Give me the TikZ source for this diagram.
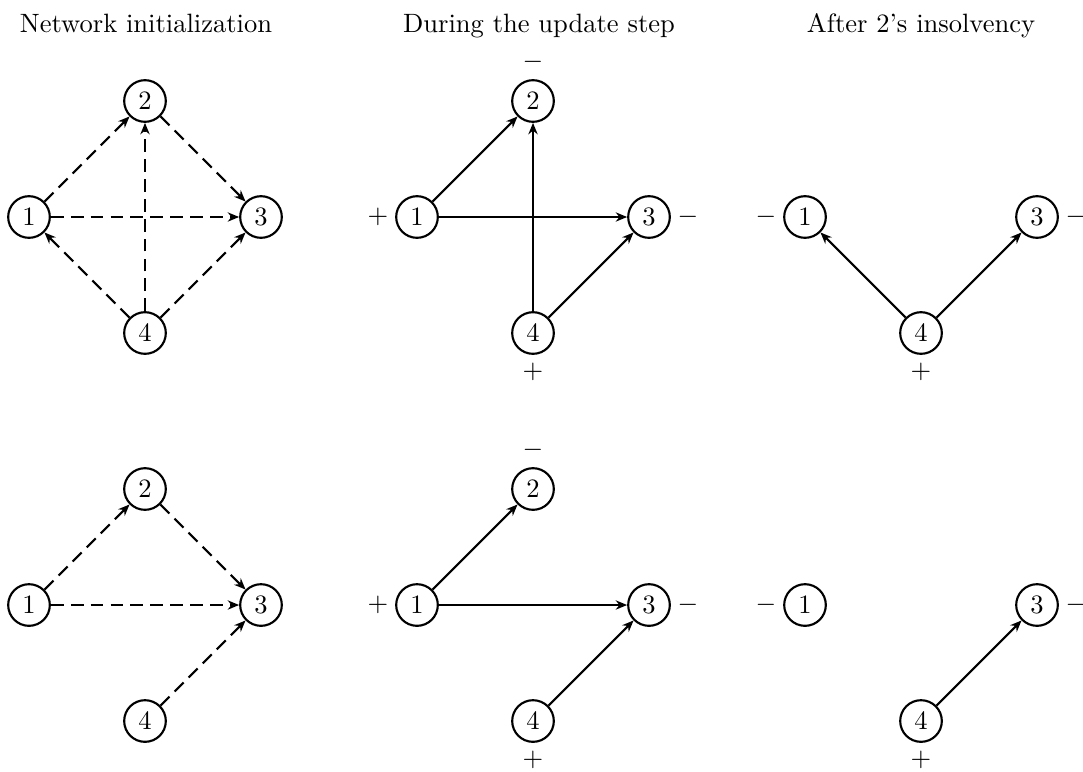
\documentclass[tikz,border=0pt]{standalone}
\usetikzlibrary{arrows.meta,calc}

\begin{document}
\begin{tikzpicture}[
  x=0.377pt, y=-0.377pt,
  vertex/.style={circle, draw, thick, minimum size=15.7pt, inner sep=0pt},
  edge/.style={thick, -{Stealth[length=4.3pt,width=3.5pt,inset=1.4pt]}},
  dashedge/.style={edge, dash pattern=on 4.8pt off 2.7pt},
  sign/.style={inner sep=0pt},
  title/.style={anchor=base, inner sep=0pt}
]
\useasboundingbox (0,0) rectangle (1083,771);

% column titles
\node[title] (t1) at (146,32) {Network initialization};
\node[title] (t2) at (539,32) {During the update step};
\node[title] (t3) at (921,32) {After 2's insolvency};

% ---------- top row ----------
% network initialization
\node[vertex] (a1) at (29,217)  {1};
\node[vertex] (a2) at (145,101) {2};
\node[vertex] (a3) at (261,217) {3};
\node[vertex] (a4) at (145,333) {4};
\draw[dashedge] (a1) -- (a2);
\draw[dashedge] (a2) -- (a3);
\draw[dashedge] (a1) -- (a3);
\draw[dashedge] (a4) -- (a2);
\draw[dashedge] (a4) -- (a1);
\draw[dashedge] (a4) -- (a3);

% during the update step
\node[vertex] (b1) at (417,217) {1};
\node[vertex] (b2) at (533,101) {2};
\node[vertex] (b3) at (649,217) {3};
\node[vertex] (b4) at (533,333) {4};
\draw[edge] (b1) -- (b2);
\draw[edge] (b1) -- (b3);
\draw[edge] (b4) -- (b2);
\draw[edge] (b4) -- (b3);
\node[sign] (b1s) at ($(b1)+(-39,0)$) {$+$};
\node[sign] (b2s) at ($(b2)+(0,-39)$) {$-$};
\node[sign] (b3s) at ($(b3)+(39,0)$) {$-$};
\node[sign] (b4s) at ($(b4)+(0,39)$) {$+$};

% after the insolvency of 2
\node[vertex] (c1) at (805,217)  {1};
\node[vertex] (c3) at (1037,217) {3};
\node[vertex] (c4) at (921,333)  {4};
\draw[edge] (c4) -- (c1);
\draw[edge] (c4) -- (c3);
\node[sign] (c1s) at ($(c1)+(-39,0)$) {$-$};
\node[sign] (c3s) at ($(c3)+(39,0)$) {$-$};
\node[sign] (c4s) at ($(c4)+(0,39)$) {$+$};

% ---------- bottom row ----------
% network initialization
\node[vertex] (d1) at (29,605)  {1};
\node[vertex] (d2) at (145,489) {2};
\node[vertex] (d3) at (261,605) {3};
\node[vertex] (d4) at (145,721) {4};
\draw[dashedge] (d1) -- (d2);
\draw[dashedge] (d2) -- (d3);
\draw[dashedge] (d1) -- (d3);
\draw[dashedge] (d4) -- (d3);

% during the update step
\node[vertex] (e1) at (417,605) {1};
\node[vertex] (e2) at (533,489) {2};
\node[vertex] (e3) at (649,605) {3};
\node[vertex] (e4) at (533,721) {4};
\draw[edge] (e1) -- (e2);
\draw[edge] (e1) -- (e3);
\draw[edge] (e4) -- (e3);
\node[sign] (e1s) at ($(e1)+(-39,0)$) {$+$};
\node[sign] (e2s) at ($(e2)+(0,-39)$) {$-$};
\node[sign] (e3s) at ($(e3)+(39,0)$) {$-$};
\node[sign] (e4s) at ($(e4)+(0,39)$) {$+$};

% after the insolvency of 2
\node[vertex] (f1) at (805,605)  {1};
\node[vertex] (f3) at (1037,605) {3};
\node[vertex] (f4) at (921,721)  {4};
\draw[edge] (f4) -- (f3);
\node[sign] (f1s) at ($(f1)+(-39,0)$) {$-$};
\node[sign] (f3s) at ($(f3)+(39,0)$) {$-$};
\node[sign] (f4s) at ($(f4)+(0,39)$) {$+$};
\end{tikzpicture}
\end{document}
